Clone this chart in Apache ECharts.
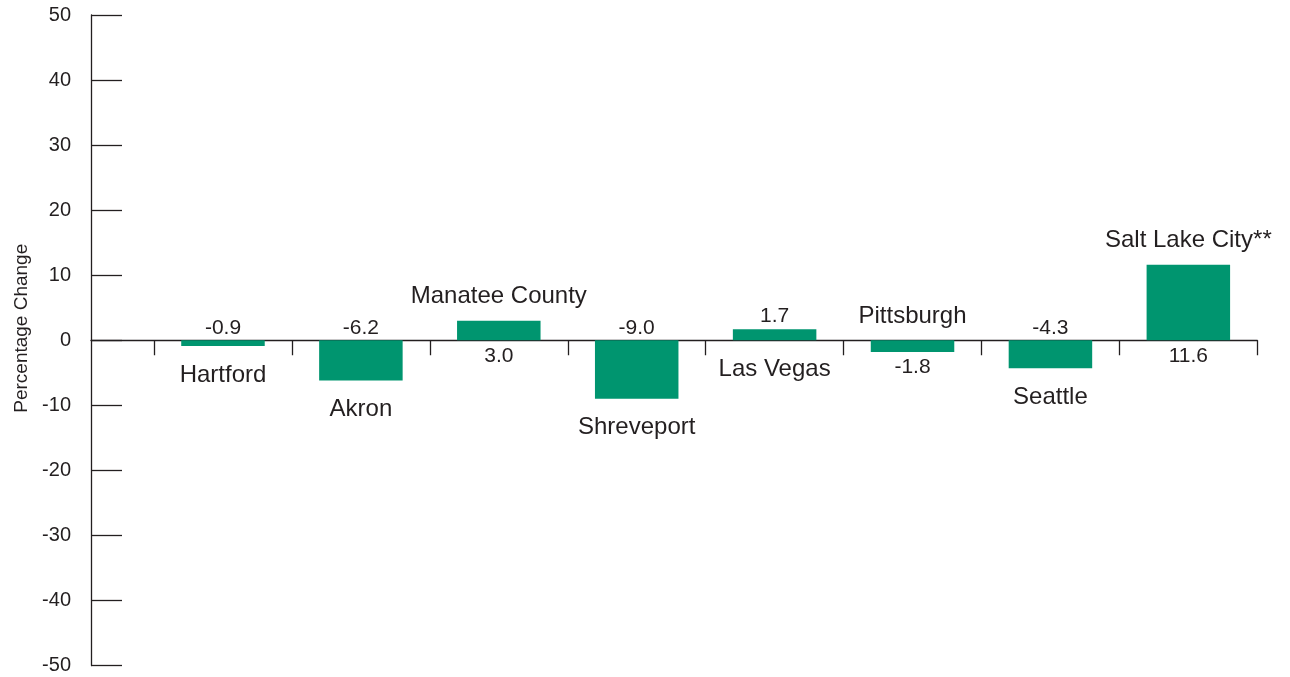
<!DOCTYPE html>
<html><head><meta charset="utf-8">
<script src="https://cdn.jsdelivr.net/npm/echarts@6/dist/echarts.min.js"></script>
<style>html,body{margin:0;padding:0;background:#fff}#c{width:1290px;height:677px}</style>
</head><body><div id="c"></div>
<script>
const cities = ['Hartford', 'Akron', 'Manatee County', 'Shreveport', 'Las Vegas', 'Pittsburgh', 'Seattle', 'Salt Lake City**'];
const changes = [-0.9, -6.2, 3.0, -9.0, 1.7, -1.8, -4.3, 11.6];
const yMin = -50, yMax = 50, yStep = 10;
const yTitle = 'Percentage Change';

// which side of the zero line each city's name sits on (layout of the original)
const nameAbove = [false, false, true, false, false, true, false, true];

const FONT = '"Liberation Sans", Arial, Helvetica, sans-serif';
const TXT = '#231f20';
const boundaries = cities.map((c, i) => i - 0.5).concat([cities.length - 0.5]);

const barData = changes.map((v, i) => {
  const valAbove = !nameAbove[i];
  return {
    value: [i, v],
    label: { position: valAbove ? 'top' : 'bottom', distance: valAbove ? 2 : 5 }
  };
});
const nameData = changes.map((v, i) => ({
  value: [i, v],
  name: cities[i],
  label: { position: nameAbove[i] ? 'top' : 'bottom', distance: nameAbove[i] ? 12 : 17 }
}));

const chart = echarts.init(document.getElementById('c'), null, { renderer: 'canvas' });
chart.setOption({
  animation: false,
  backgroundColor: '#ffffff',
  grid: { left: 91, right: 32.7, top: 15, bottom: 11.5, containLabel: false },
  xAxis: {
    type: 'value',
    min: -0.957, max: cities.length - 0.5,
    axisLine: { show: true, onZero: true, lineStyle: { color: TXT, width: 1.3 } },
    axisTick: { show: true, customValues: boundaries, length: 15, inside: false, lineStyle: { color: TXT, width: 1.3 } },
    axisLabel: { show: false },
    splitLine: { show: false }
  },
  yAxis: {
    type: 'value',
    min: yMin, max: yMax, interval: yStep,
    name: yTitle,
    nameLocation: 'middle',
    nameGap: 54,
    nameRotate: 90,
    nameTextStyle: { fontFamily: FONT, fontSize: 19, color: TXT, padding: [0, 0, 0, 24] },
    axisLine: { show: true, onZero: false, lineStyle: { color: TXT, width: 1.3 } },
    axisTick: { show: true, inside: true, length: 31, lineStyle: { color: TXT, width: 1.3 } },
    axisLabel: { fontFamily: FONT, fontSize: 20, color: TXT, margin: 20 },
    splitLine: { show: false }
  },
  series: [
    {
      type: 'bar',
      data: barData,
      barWidth: 83.5,
      itemStyle: { color: '#00956f' },
      label: {
        show: true, fontFamily: FONT, fontSize: 21, color: TXT,
        formatter: p => p.value[1].toFixed(1)
      },
      silent: true
    },
    {
      type: 'bar',
      data: nameData,
      barWidth: 83.5,
      barGap: '-100%',
      itemStyle: { color: 'rgba(0,0,0,0)' },
      label: {
        show: true, fontFamily: FONT, fontSize: 24, color: TXT,
        formatter: p => p.name
      },
      silent: true
    }
  ]
});
</script>
</body></html>
